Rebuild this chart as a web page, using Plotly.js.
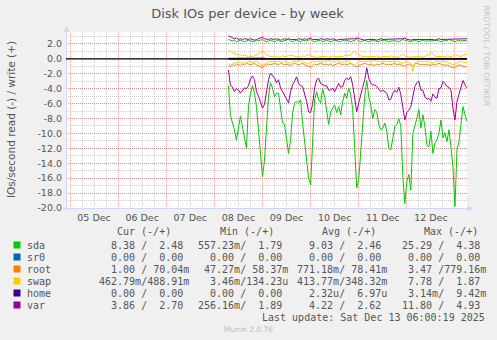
<!DOCTYPE html>
<html><head><meta charset="utf-8">
<script src="https://cdn.plot.ly/plotly-3.0.1.min.js"></script>
<style>html,body{margin:0;padding:0;background:#F0F0F0;}#chart{width:497px;height:340px;}</style>
</head><body><div id="chart"></div>
<script>
// ---------------- data ----------------
const xRange = ['2025-12-04 22:00', '2025-12-13 06:00'];
const dataStart = '2025-12-08 07:00';   // hourly samples from here
const zeroTimes = ['2025-12-08 07:00','2025-12-09 07:00','2025-12-10 07:00','2025-12-11 07:00','2025-12-12 07:00','2025-12-13 06:00'];

const sdaRead = [-3.6,-7.5,-8.6,-9.5,-10.9,-9.5,-7.7,-9.1,-10.4,-12.0,
 -6.4,-4.6,-3.6,-4.6,-6.4,-9.5,-13.1,-15.8,-13.6,-9.5,
 -5.0,-3.2,-3.9,-5.1,-4.6,-4.6,-6.4,-8.6,-8.8,-11.1,
 -12.7,-10.9,-7.3,-5.9,-5.7,-5.9,-5.5,-8.6,-11.3,-14.0,
 -16.0,-16.9,-11.3,-5.5,-4.4,-5.5,-5.9,-4.0,-5.1,-7.3,
 -8.8,-7.1,-6.7,-6.2,-7.2,-6.4,-7.5,-5.7,-4.6,-5.3,
 -3.9,-4.8,-6.8,-13.1,-17.3,-16.2,-12.2,-8.6,-5.0,-2.9,
 -5.1,-6.2,-8.0,-6.8,-7.1,-8.8,-9.5,-9.3,-8.6,-9.7,
 -12.0,-12.2,-10.9,-9.1,-8.8,-8.0,-9.1,-15.8,-19.4,-16.4,
 -15.5,-17.6,-10.0,-9.1,-8.0,-6.8,-9.3,-7.5,-9.1,-11.5,
 -11.8,-9.7,-12.7,-11.3,-10.9,-10.0,-8.2,-10.6,-9.9,-11.1,
 -9.5,-11.8,-14.5,-19.8,-12.2,-11.1,-8.8,-6.4,-7.5,-8.4];
const sdaWrite = [2.6,2.5,2.4,2.5,2.3,2.4,2.5,2.4,2.3,2.4,
 2.5,2.4,2.4,2.3,2.5,2.4,2.5,2.6,2.4,2.3,
 2.4,2.5,2.4,2.3,2.4,2.5,2.3,2.4,2.4,2.5,
 2.6,2.4,2.3,2.4,2.5,2.4,2.3,2.5,2.4,2.4,
 2.5,2.6,2.4,2.3,2.4,2.4,2.5,2.3,2.4,2.5,
 2.4,2.3,2.4,2.5,2.4,2.4,2.3,2.5,2.4,2.5,
 2.4,2.3,2.4,2.5,2.6,2.4,2.3,2.4,2.5,2.4,
 2.3,2.4,2.5,2.4,2.4,2.3,2.5,2.4,2.5,2.4,
 2.3,2.4,2.4,2.5,2.4,2.3,2.5,2.6,2.5,2.4,
 2.4,2.3,2.4,2.5,2.4,2.3,2.4,2.5,2.4,2.4,
 2.3,2.4,2.5,2.4,2.5,2.4,2.3,2.4,2.5,2.4,
 2.6,2.5,2.4,2.3,2.4,2.5,2.4,2.4,2.5,2.5];
const sr0Read = [0,0,0,0,0,0];
const sr0Write = [0,0,0,0,0,0];
const rootRead = [-0.9,-1.1,-0.8,-0.9,-0.7,-0.8,-0.9,-0.7,-0.8,-0.6,
 -0.7,-0.8,-0.7,-0.6,-0.8,-0.9,-1.0,-1.2,-0.9,-0.8,
 -0.7,-0.8,-0.7,-0.6,-0.7,-0.8,-0.6,-0.7,-0.8,-0.7,
 -0.8,-0.9,-0.7,-0.6,-0.7,-0.8,-0.7,-0.6,-0.8,-0.9,
 -1.0,-1.1,-0.9,-0.7,-0.8,-0.7,-0.6,-0.7,-0.8,-0.7,
 -0.8,-0.7,-0.9,-0.8,-0.7,-0.6,-0.7,-0.8,-0.7,-0.8,
 -0.7,-0.6,-0.8,-1.0,-1.1,-0.9,-0.8,-0.7,-0.6,-0.7,
 -0.8,-0.7,-0.8,-0.9,-0.7,-0.8,-0.7,-0.6,-0.7,-0.8,
 -0.7,-0.8,-0.7,-0.6,-0.8,-0.7,-0.8,-0.9,-1.0,-0.8,
 -0.7,-0.8,-0.9,-0.7,-0.6,-0.7,-0.8,-0.7,-0.8,-0.7,
 -0.8,-0.9,-0.7,-0.8,-0.7,-0.6,-0.7,-0.8,-0.9,-0.8,
 -0.9,-1.0,-1.2,-1.1,-0.9,-0.8,-0.9,-1.0,-1.1,-1.0];
const rootWrite = [0.1,0.1,0.05,0.1,0.05,0.05,0.1,0.05,0.1,0.05,
 0.05,0.1,0.05,0.05,0.1,0.1,0.15,0.2,0.1,0.05,
 0.05,0.05,0.1,0.05,0.05,0.1,0.05,0.05,0.1,0.05,
 0.1,0.05,0.05,0.1,0.05,0.05,0.05,0.1,0.05,0.1,
 0.15,0.1,0.05,0.05,0.1,0.05,0.05,0.1,0.05,0.05,
 0.1,0.05,0.05,0.1,0.05,0.05,0.1,0.05,0.05,0.1,
 0.05,0.05,0.1,0.15,0.1,0.05,0.05,0.1,0.05,0.05,
 0.1,0.05,0.05,0.1,0.05,0.05,0.1,0.05,0.05,0.1,
 0.05,0.1,0.05,0.05,0.1,0.05,0.1,0.15,0.1,0.05,
 0.05,0.1,0.05,0.05,0.1,0.05,0.05,0.1,0.05,0.05,
 0.1,0.05,0.05,0.1,0.05,0.05,0.1,0.05,0.1,0.05,
 0.1,0.05,0.1,0.05,0.05,0.1,0.05,0.1,0.05,0.07];
const swapRead = [-0.6,-0.9,-0.7,-0.5,-0.6,-0.4,-0.5,-0.6,-0.4,-0.5,
 -0.3,-0.4,-0.5,-0.4,-0.3,-0.5,-0.8,-1.0,-0.7,-0.5,
 -0.4,-0.3,-0.4,-0.3,-0.4,-0.3,-0.4,-0.5,-0.3,-0.4,
 -0.5,-0.6,-0.4,-0.3,-0.4,-0.3,-0.2,-0.4,-0.5,-0.6,
 -0.7,-0.5,-0.4,-0.3,-0.4,-0.3,-0.4,-0.3,-0.4,-0.3,
 -0.2,-0.3,-0.4,-0.3,-0.4,-0.3,-0.4,-0.5,-0.3,-0.4,
 -0.3,-0.5,-0.7,-0.9,-0.6,-0.4,-0.3,-0.4,-0.3,-0.4,
 -0.3,-0.4,-0.3,-0.2,-0.3,-0.4,-0.3,-0.4,-0.3,-0.4,
 -0.3,-0.4,-0.3,-0.4,-0.3,-0.4,-0.5,-0.6,-0.4,-0.3,
 -0.4,-0.6,-1.7,-0.5,-0.4,-0.3,-0.4,-0.3,-0.4,-0.3,
 -0.4,-0.5,-0.6,-0.4,-0.3,-0.4,-0.3,-0.4,-0.3,-0.4,
 -0.5,-0.6,-0.8,-0.7,-0.5,-0.4,-0.3,-0.4,-0.5,-0.46];
const swapWrite = [0.9,1.1,0.8,0.7,0.6,0.5,0.6,0.4,0.5,0.4,
 0.3,0.4,0.3,0.4,0.5,0.6,0.9,1.1,0.8,0.5,
 0.4,0.3,0.3,0.4,0.3,0.2,0.3,0.4,0.3,0.3,
 0.4,0.5,0.4,0.3,0.3,0.2,0.3,0.4,0.3,0.5,
 0.6,0.4,0.3,0.3,0.2,0.3,0.3,0.4,0.3,0.3,
 0.2,0.3,0.4,0.3,0.3,0.2,0.3,0.3,0.4,0.5,
 0.4,0.6,0.8,1.0,0.7,0.5,0.4,0.3,0.3,0.2,
 0.3,0.3,0.2,0.3,0.4,0.3,0.2,0.3,0.3,0.2,
 0.3,0.4,0.3,0.3,0.2,0.3,0.5,0.7,0.4,0.3,
 0.3,0.2,0.3,0.3,0.4,0.3,0.3,0.2,0.3,0.4,
 0.6,0.9,0.6,0.4,0.3,0.3,0.2,0.3,0.3,0.4,
 0.3,0.3,0.4,0.6,0.5,0.4,0.3,0.5,0.6,0.49];
const homeRead = [0,0,0,0,0,0];
const homeWrite = [0,0,0,0,0,0];
const varRead = [-1.5,-3.5,-3.8,-4.4,-4.0,-4.2,-4.6,-4.3,-3.9,-4.0,
 -3.6,-2.7,-2.3,-2.8,-4.4,-5.0,-5.9,-6.6,-6.1,-4.4,
 -2.8,-1.9,-2.3,-2.6,-3.2,-2.8,-3.9,-4.4,-4.8,-5.3,
 -5.9,-4.4,-3.5,-3.0,-2.4,-3.3,-3.6,-3.7,-4.6,-5.7,
 -7.1,-7.2,-6.1,-3.9,-2.8,-2.6,-3.3,-3.5,-3.6,-3.6,
 -4.2,-4.2,-3.9,-4.4,-3.9,-3.3,-3.8,-3.7,-2.9,-2.6,
 -2.8,-2.4,-3.5,-5.5,-7.1,-5.9,-5.0,-3.8,-2.8,-1.2,
 -2.6,-3.3,-3.5,-3.5,-3.7,-4.0,-4.4,-4.2,-4.4,-4.6,
 -5.5,-5.4,-4.6,-4.2,-4.5,-3.8,-4.8,-6.3,-8.2,-7.2,
 -6.9,-6.4,-4.8,-3.7,-3.2,-3.0,-4.2,-4.2,-5.1,-5.4,
 -5.3,-5.7,-4.7,-5.1,-5.3,-4.0,-3.9,-3.0,-3.3,-3.7,
 -3.8,-4.2,-6.6,-8.2,-5.7,-4.8,-3.9,-2.9,-3.5,-3.9];
const varWrite = [3.1,3.0,2.8,2.7,2.8,2.6,2.7,2.6,2.7,2.6,
 2.6,2.7,2.6,2.5,2.6,2.7,2.8,2.9,2.7,2.6,
 2.6,2.7,2.6,2.6,2.7,2.6,2.5,2.6,2.7,2.6,
 2.7,2.6,2.6,2.5,2.6,2.7,2.6,2.6,2.7,2.6,
 2.7,2.8,2.6,2.6,2.5,2.6,2.7,2.6,2.6,2.7,
 2.6,2.6,2.7,2.6,2.5,2.6,2.6,2.7,2.6,2.6,
 2.7,2.6,2.6,2.7,2.8,2.7,2.6,2.6,2.5,2.6,
 2.6,2.7,2.6,2.6,2.5,2.6,2.7,2.6,2.6,2.7,
 2.6,2.6,2.7,2.6,2.6,2.7,2.6,2.7,2.8,2.6,
 2.6,2.5,2.6,2.6,2.7,2.6,2.6,2.7,2.6,2.6,
 2.7,2.6,2.6,2.5,2.6,2.7,2.6,2.6,2.7,2.6,
 2.6,2.7,2.6,2.6,2.7,2.6,2.7,2.6,2.7,2.7];

const yTickVals = [-20,-18,-16,-14,-12,-10,-8,-6,-4,-2,0,2];
const yTickText = ['-20.0','-18.0','-16.0','-14.0','-12.0','-10.0','-8.0','-6.0','-4.0','-2.0','0.0','2.0'];

const legendLabels = ['sda','sr0','root','swap','home','var'];
const legendColors = ['#00CC00','#0066B3','#FF8000','#FFCC00','#330099','#990099'];
const legendHeaders = ['Cur (-/+)','Min (-/+)','Avg (-/+)','Max (-/+)'];
const curText = ['  8.38 /  2.48','  0.00 /  0.00','  1.00 / 70.04m','462.79m/488.91m','  0.00 /  0.00','  3.86 /  2.70'];
const minText = ['557.23m/  1.79','  0.00 /  0.00',' 47.27m/ 58.37m','  3.46m/134.23u','  0.00 /  0.00','256.16m/  1.89'];
const avgText = ['  9.03 /  2.46','  0.00 /  0.00','771.18m/ 78.41m','413.77m/348.32m','  2.32u/  6.97u','  4.22 /  2.62'];
const maxText = [' 25.29 /  4.38','  0.00 /  0.00','  3.47 /779.16m','  7.78 /  1.87','  3.14m/  9.42m',' 11.80 /  4.93'];
const lastUpdate = 'Last update: Sat Dec 13 06:00:19 2025';

// ---------------- layout helpers ----------------
const W = 497, H = 340, PL = 66, PR = 467, PT = 32, PB = 208;
const px = v => (v - PL) / (PR - PL);
const py = v => (PB - v) / (PB - PT);
function hourly(start, n) {
  const t0 = new Date(start.replace(' ', 'T') + ':00Z').getTime();
  return Array.from({length: n}, (_, i) => new Date(t0 + i * 3600000).toISOString().slice(0, 16).replace('T', ' '));
}
const t = hourly(dataStart, sdaRead.length);
const nb = s => s.replace(/ /g, '\u00A0');

const FONT = 'DejaVu Sans, sans-serif';
const MONO = 'DejaVu Sans Mono, monospace';
const TXT = '#555555';

function line(x, y, c) {
  return {x: x, y: y, type: 'scatter', mode: 'lines', line: {color: c, width: 1}, hoverinfo: 'skip'};
}
const traces = [
  line(t, sdaRead, legendColors[0]), line(t, sdaWrite, legendColors[0]),
  line(zeroTimes, sr0Read, legendColors[1]), line(zeroTimes, sr0Write, legendColors[1]),
  line(t, rootRead, legendColors[2]), line(t, rootWrite, legendColors[2]),
  line(t, swapRead, legendColors[3]), line(t, swapWrite, legendColors[3]),
  line(zeroTimes, homeRead, legendColors[4]), line(zeroTimes, homeWrite, legendColors[4]),
  line(t, varRead, legendColors[5]), line(t, varWrite, legendColors[5])
];

const annotations = [];
function ann(text, x, y, o) {
  o = o || {};
  annotations.push(Object.assign({
    xref: 'paper', yref: 'paper', x: px(x), y: py(y), text: nb(text), showarrow: false,
    xanchor: 'left', yanchor: 'middle', borderpad: 0,
    font: {family: MONO, size: 10, color: TXT}
  }, o));
}
// y-axis title
ann('IOs/second read (-) / write (+)', 11, 120, {xanchor: 'center', textangle: -90, font: {family: FONT, size: 10.5, color: TXT}});
// rrdtool credit
ann('RRDTOOL / TOBI OETIKER', 486.5, 56, {xanchor: 'center', textangle: 90, font: {family: FONT, size: 7.8, color: '#C4C4C4'}});
// legend
const headerX = [116, 218.5, 321, 422.5];
legendHeaders.forEach((h, i) => ann(h, headerX[i], 232));
const colX = [97.5, 196.5, 295.5, 394.5];
const rowY0 = 245, rowStep = 12;
const shapes = [];
legendLabels.forEach((lab, r) => {
  const y = rowY0 + r * rowStep;
  ann(lab, 26, y);
  [curText, minText, avgText, maxText].forEach((col, i) => ann(col[r], colX[i], y));
  shapes.push({type: 'rect', xref: 'paper', yref: 'paper', x0: px(13.5), x1: px(20.5), y0: py(y + 3.5), y1: py(y - 3.5),
    fillcolor: legendColors[r], line: {width: 0}, layer: 'above'});
});
ann(lastUpdate, 261, 317);
ann('Munin 2.0.76', 248, 329, {xanchor: 'center', font: {family: FONT, size: 7.5, color: '#BBBBBB'}});

// axes lines + arrows (layout decoration)
const AX = '#CFD6F8';
shapes.push({type: 'line', xref: 'paper', yref: 'paper', x0: px(66.5), x1: px(66.5), y0: py(211), y1: py(30), line: {color: AX, width: 1}, layer: 'above'});
shapes.push({type: 'line', xref: 'paper', yref: 'paper', x0: px(63), x1: px(469), y0: py(208.5), y1: py(208.5), line: {color: AX, width: 1}, layer: 'above'});
shapes.push({type: 'path', xref: 'paper', yref: 'paper', path:
  `M ${px(66.5)} ${py(26)} L ${px(63.5)} ${py(32)} L ${px(69.5)} ${py(32)} Z`, fillcolor: AX, line: {width: 0}, layer: 'above'});
shapes.push({type: 'path', xref: 'paper', yref: 'paper', path:
  `M ${px(473.5)} ${py(208.5)} L ${px(467.5)} ${py(205.5)} L ${px(467.5)} ${py(211.5)} Z`, fillcolor: AX, line: {width: 0}, layer: 'above'});
// zero rule
shapes.push({type: 'line', xref: 'paper', yref: 'y', x0: 0, x1: 1, y0: 0, y1: 0, line: {color: '#000000', width: 1.2}, layer: 'above'});

const MGRID = 'rgba(255,0,0,0.3)', GRID = 'rgba(128,128,128,0.38)';
const layout = {
  width: W, height: H, paper_bgcolor: '#F0F0F0', plot_bgcolor: '#FFFFFF',
  margin: {l: PL, r: W - PR, t: PT, b: H - PB, pad: 0},
  showlegend: false,
  font: {family: FONT, size: 9.5, color: TXT},
  title: {text: 'Disk IOs per device - by week', font: {family: FONT, size: 13, color: TXT},
    x: 247.5 / W, xanchor: 'center', y: 1 - 13 / H, yanchor: 'middle'},
  xaxis: {type: 'date', range: xRange, tick0: '2025-12-05', dtick: 86400000, tickformat: '%d %b',
    ticklabelmode: 'period', ticks: '', showline: false, zeroline: false, ticklabelstandoff: 2,
    showgrid: true, gridcolor: MGRID, griddash: '1px,1px', gridwidth: 1,
    minor: {tick0: '2025-12-05', dtick: 21600000, showgrid: true, gridcolor: GRID, griddash: '1px,1px', gridwidth: 1},
    tickfont: {family: FONT, size: 9.5, color: TXT}, fixedrange: true},
  yaxis: {range: [-20, 3.6], tickmode: 'array', tickvals: yTickVals, ticktext: yTickText,
    ticks: '', showline: false, zeroline: false, ticklabelstandoff: 3,
    showgrid: true, gridcolor: MGRID, griddash: '1px,1px', gridwidth: 1,
    minor: {tickmode: 'linear', tick0: 0, dtick: 1, showgrid: true, gridcolor: GRID, griddash: '1px,1px', gridwidth: 1},
    tickfont: {family: FONT, size: 9.5, color: TXT}, fixedrange: true},
  annotations: annotations,
  shapes: shapes
};
Plotly.newPlot('chart', traces, layout, {displayModeBar: false, staticPlot: true});
</script></body></html>
